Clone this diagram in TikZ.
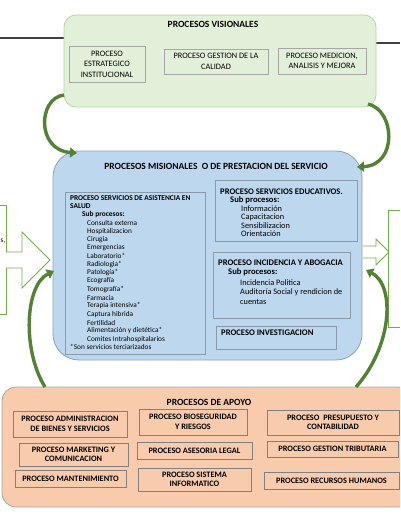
\documentclass[tikz,border=0pt]{standalone}
\usepackage{fontspec}
\setmainfont{Carlito}
\usetikzlibrary{arrows.meta}
\definecolor{visfill}{HTML}{E2F0D9}
\definecolor{visdraw}{HTML}{B4D89C}
\definecolor{misfill}{HTML}{BDD7EE}
\definecolor{misdraw}{HTML}{8E9FB2}
\definecolor{apofill}{HTML}{F8CBAD}
\definecolor{apodraw}{HTML}{A6A6A6}
\definecolor{boxgray}{HTML}{A6A6A6}
\definecolor{innergray}{HTML}{8C99A8}
\definecolor{apoinner}{HTML}{808080}
\definecolor{arrgreen}{HTML}{548235}
\definecolor{blockgreen}{HTML}{70AD47}
\definecolor{topline}{HTML}{404040}
\tikzset{
  container/.style={line width=0.8pt, inner sep=0},
  vbox/.style={draw=boxgray, line width=0.8pt, inner sep=0, align=center, font=\fontsize{8.3}{10.4}\selectfont},
  abox/.style={draw=apoinner, line width=0.8pt, inner sep=0, align=center, font=\bfseries\fontsize{8.3}{9.6}\selectfont},
  mbox/.style={draw=innergray, line width=0.6pt, inner sep=0},
  lt/.style={anchor=west, inner sep=0, font=\fontsize{7.3}{8}\selectfont},
  lb/.style={anchor=west, inner sep=0, font=\bfseries\fontsize{7.4}{8}\selectfont},
  rt/.style={anchor=west, inner sep=0, font=\fontsize{8.3}{9}\selectfont},
  rb/.style={anchor=west, inner sep=0, font=\bfseries\fontsize{8.6}{9}\selectfont},
  ttl/.style={font=\bfseries\fontsize{9.5}{10}\selectfont, inner sep=0},
  carrow/.style={draw=arrgreen, line width=3.4pt, -{Triangle[width=10pt,length=7pt]}},
  blockarrow/.style={draw=blockgreen, fill=white, line width=0.8pt, line join=miter},
}
\begin{document}
\begin{tikzpicture}[x=1pt,y=-1pt]
\useasboundingbox (0,0) rectangle (400,516);
\clip (0,0) rectangle (400,516);

% top lines
\coordinate (tl1) at (0,38);
\coordinate (tl2) at (64,38);
\coordinate (tr1) at (376,43);
\coordinate (tr2) at (400,43);
\draw[topline, line width=1.3pt] (tl1) -- (tl2);
\draw[topline, line width=1.3pt] (tr1) -- (tr2);

% containers
\node[container, draw=visdraw, fill=visfill, rounded corners=12pt, minimum width=312, minimum height=92] (vis) at (220,61) {};
\node[container, draw=misdraw, fill=misfill, rounded corners=26pt, minimum width=309, minimum height=209] (mis) at (207.5,255.5) {};
\node[container, draw=apodraw, fill=apofill, rounded corners=14pt, minimum width=410, minimum height=120] (apo) at (207,447) {};

% visionales
\node[ttl] (vt) at (213,24) {PROCESOS VISIONALES};
\node[vbox, minimum width=76, minimum height=36] (v1) at (107,64) {PROCESO\\ESTRATEGICO\\INSTITUCIONAL};
\node[vbox, minimum width=104, minimum height=25] (v2) at (216,61.5) {PROCESO GESTION DE LA\\CALIDAD};
\node[vbox, minimum width=88, minimum height=26] (v3) at (322,61) {PROCESO MEDICION,\\ANALISIS Y MEJORA};

% misionales
\node[ttl] (mt) at (216,166) {PROCESOS MISIONALES\ \ O DE PRESTACION DEL SERVICIO};
\node[mbox, minimum width=140, minimum height=162] (m1) at (135,273) {};
\node[mbox, minimum width=142, minimum height=61] (m2) at (286,210.5) {};
\node[mbox, minimum width=137, minimum height=66] (m3) at (281.5,285) {};
\node[mbox, minimum width=120, minimum height=23] (m4) at (276,337.5) {};

\node[lb] (m1a) at (70,198) {PROCESO SERVICIOS DE ASISTENCIA EN};
\node[lb] (m1b) at (70,206.3) {SALUD};
\node[lb] (m1c) at (82,214.6) {Sub procesos:};
\foreach \t [count=\i] in {Consulta externa, Hospitalizacion, Cirugia, Emergencias, Laboratorio*, Radiologia*, Patología*, Ecografía, Tomografía*, Farmacia, Terapia intensiva*, Captura hibrida, Fertilidad, Alimentación y dietética*, Comites Intrahospitalarios}
  \node[lt] (li\i) at (87,214.6+8.3*\i) {\t};
\node[lt] (m1n) at (70,347.3) {*Son servicios terciarizados};

\node[rb] (m2a) at (220,192) {PROCESO SERVICIOS EDUCATIVOS.};
\node[rb] (m2b) at (230,200.3) {Sub procesos:};
\foreach \t [count=\i] in {Información, Capacitacion, Sensibilizacion, Orientación}
  \node[rt] (ei\i) at (241,200.3+8.3*\i) {\t};

\node[rb] (m3a) at (218,263) {PROCESO INCIDENCIA Y ABOGACIA};
\node[rb] (m3b) at (228,272.5) {Sub procesos:};
\node[rt] (m3c) at (240,283) {Incidencia Politica};
\node[rt] (m3d) at (240,292.5) {Auditoría Social y rendicion de};
\node[rt] (m3e) at (240,302) {cuentas};

\node[rb] (m4a) at (221,333) {PROCESO INVESTIGACION};

% apoyo
\node[ttl] (at) at (209,402) {PROCESOS DE APOYO};
\node[abox, minimum width=114, minimum height=26] (a1) at (70,424) {PROCESO ADMINISTRACION\\DE BIENES Y SERVICIOS};
\node[abox, minimum width=108, minimum height=26] (a2) at (193,422) {PROCESO BIOSEGURIDAD\\Y RIESGOS};
\node[abox, minimum width=132, minimum height=25] (a3) at (333,422.5) {PROCESO\ \ PRESUPUESTO Y\\CONTABILIDAD};
\node[abox, minimum width=109, minimum height=23] (a4) at (73.5,454.5) {PROCESO MARKETING Y\\COMUNICACION};
\node[abox, minimum width=115, minimum height=17] (a5) at (194.5,450.5) {PROCESO ASESORIA LEGAL};
\node[abox, minimum width=131, minimum height=16] (a6) at (332.5,449) {PROCESO GESTION TRIBUTARIA};
\node[abox, minimum width=111, minimum height=17] (a7) at (70.5,478.5) {PROCESO MANTENIMIENTO};
\node[abox, minimum width=113, minimum height=23] (a8) at (194.5,479.5) {PROCESO SISTEMA\\INFORMATICO};
\node[abox, minimum width=135, minimum height=17] (a9) at (331.5,480.5) {PROCESO RECURSOS HUMANOS};

% left entry box and block arrow
\coordinate (lb1) at (0,205);
\coordinate (lb2) at (6,205);
\coordinate (lb3) at (6,314);
\coordinate (lb4) at (0,314);
\draw[blockgreen, line width=0.8pt] (lb1) -- (lb2) -- (lb3) -- (lb4);
\node[lt, anchor=east] (ls) at (5.5,241) {s,};
\draw[blockarrow] (6,252) -- (22,252) -- (22,232) -- (50,260) -- (22,288) -- (22,268) -- (6,268);

% right exit box and block arrow
\coordinate (rb1) at (400,210);
\coordinate (rb2) at (388,210);
\coordinate (rb3) at (388,327);
\coordinate (rb4) at (400,327);
\draw[blockgreen, line width=0.8pt] (rb1) -- (rb2) -- (rb3) -- (rb4);
\draw[blockarrow] (363,246) -- (376,246) -- (376,239) -- (389,252) -- (376,265) -- (376,258) -- (363,258);

% curved arrows
\coordinate (c1s) at (64,95);
\coordinate (c1e) at (77,153);
\draw[carrow] (c1s) .. controls (38,98) and (36,150) .. (c1e);
\coordinate (c2s) at (368,104);
\coordinate (c2e) at (357,167);
\draw[carrow] (c2s) .. controls (395,110) and (398,165) .. (c2e);
\coordinate (c3s) at (45,387);
\coordinate (c3e) at (54,271);
\draw[carrow] (c3s) .. controls (22,350) and (25,285) .. (c3e);
\coordinate (c4s) at (356,387);
\coordinate (c4e) at (366,270);
\draw[carrow] (c4s) .. controls (393,345) and (395,285) .. (c4e);
\end{tikzpicture}
\end{document}
